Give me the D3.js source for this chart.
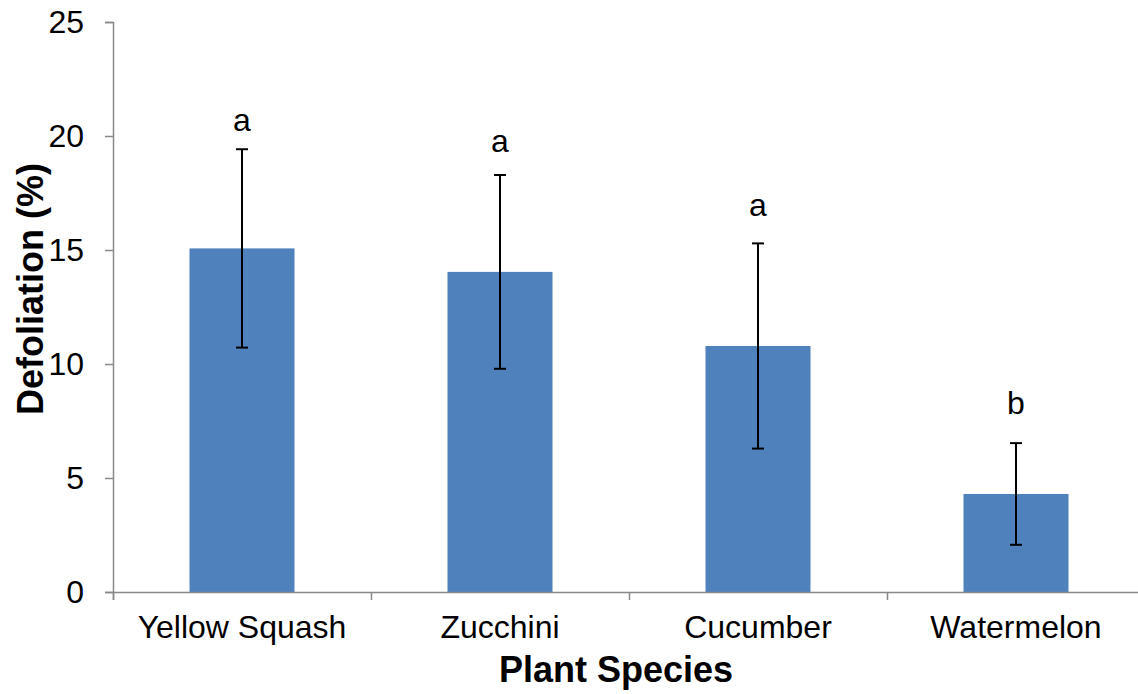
<!DOCTYPE html>
<html><head><meta charset="utf-8">
<script src="https://cdn.jsdelivr.net/npm/d3@7/dist/d3.min.js"></script>
<style>body{margin:0;background:#fff}svg{display:block}</style>
</head><body>
<script>
const categories = ["Yellow Squash", "Zucchini", "Cucumber", "Watermelon"];
const means = [15.07, 14.04, 10.79, 4.30];
const errors = [4.35, 4.25, 4.50, 2.23];
const letters = ["a", "a", "a", "b"];
const letterPos = [20.2, 19.3, 16.5, 7.8];
const yTicks = [0, 5, 10, 15, 20, 25];

(function () {
const W = 1138, H = 694;
const svg = d3.select("body").append("svg").attr("width", W).attr("height", H);
const mLeft = 113, mTop = 22, mBottom = 592, mRight = 1145;
const x = d3.scaleBand().domain(categories).range([mLeft, mRight]).paddingInner(0.593).paddingOuter(0.2965);
const y = d3.scaleLinear().domain([0, 25]).range([mBottom, mTop]);
const font = "Liberation Sans, Arial, sans-serif";
const axisColor = "#898989";

// bars
svg.selectAll("rect.bar").data(categories).join("rect")
  .attr("x", d => x(d)).attr("width", x.bandwidth())
  .attr("y", (d, i) => y(means[i])).attr("height", (d, i) => y(0) - y(means[i]))
  .attr("fill", "#4F81BD");

// y axis
const yAxis = svg.append("g").attr("transform", `translate(${mLeft},0)`)
  .call(d3.axisLeft(y).tickValues(yTicks).tickSize(8).tickPadding(21));
yAxis.select(".domain").attr("stroke", axisColor).attr("stroke-width", 1.5);
yAxis.selectAll(".tick line").attr("stroke", axisColor).attr("stroke-width", 1.5);
yAxis.selectAll("text").attr("font-family", font).attr("font-size", 32).attr("fill", "#000");

// x axis
const step = x.step();
const xb = d3.scalePoint().domain(d3.range(categories.length + 1)).range([mLeft, mLeft + step * categories.length]);
const xAxis = svg.append("g").attr("transform", `translate(0,${mBottom})`)
  .call(d3.axisBottom(xb).tickSize(8).tickFormat(""));
xAxis.select(".domain").attr("stroke", axisColor).attr("stroke-width", 1.5);
xAxis.selectAll(".tick line").attr("stroke", axisColor).attr("stroke-width", 1.5);
svg.append("g").selectAll("text").data(categories).join("text")
  .attr("x", d => x(d) + x.bandwidth() / 2).attr("y", 638)
  .attr("text-anchor", "middle").attr("font-family", font).attr("font-size", 32)
  .text(d => d);

// error bars
const eb = svg.append("g").attr("stroke", "#000").attr("stroke-width", 2);
categories.forEach((c, i) => {
  const cx = x(c) + x.bandwidth() / 2;
  const lo = y(means[i] - errors[i]), hi = y(means[i] + errors[i]);
  eb.append("line").attr("x1", cx).attr("x2", cx).attr("y1", lo).attr("y2", hi);
  eb.append("line").attr("x1", cx - 6).attr("x2", cx + 6).attr("y1", lo).attr("y2", lo);
  eb.append("line").attr("x1", cx - 6).attr("x2", cx + 6).attr("y1", hi).attr("y2", hi);
});

// letters
svg.append("g").selectAll("text").data(categories).join("text")
  .attr("x", d => x(d) + x.bandwidth() / 2).attr("y", (d, i) => y(letterPos[i]))
  .attr("text-anchor", "middle").attr("font-family", font).attr("font-size", 32)
  .text((d, i) => letters[i]);

// titles
svg.append("text").attr("x", 616).attr("y", 682)
  .attr("text-anchor", "middle").attr("font-family", font).attr("font-size", 36).attr("font-weight", "bold")
  .text("Plant Species");
svg.append("text").attr("transform", `translate(43,289) rotate(-90)`)
  .attr("text-anchor", "middle").attr("font-family", font).attr("font-size", 36).attr("font-weight", "bold")
  .text("Defoliation (%)");
})();
</script>
</body></html>
